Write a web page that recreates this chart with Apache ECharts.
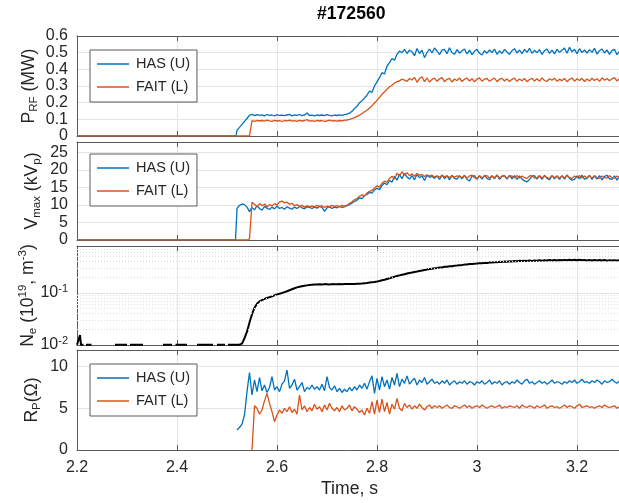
<!DOCTYPE html>
<html>
<head>
<meta charset="utf-8">
<script src="https://cdn.jsdelivr.net/npm/echarts@6/dist/echarts.min.js"></script>
<style>
  html, body { margin: 0; padding: 0; background: #fff; }
  #main { width: 619px; height: 503px; }
</style>
</head>
<body>
<div id="main"></div>
<script>
// samples on a 5 ms grid starting at 2.52 s
var T0 = 2.52, DT = 0.005;

var pHas = [
  0.035, 0.052, 0.07, 0.088, 0.105, 0.125, 0.13, 0.122, 0.128, 0.124,
  0.127, 0.121, 0.129, 0.124, 0.126, 0.12, 0.128, 0.123, 0.125, 0.122,
  0.126, 0.13, 0.121, 0.127, 0.124, 0.129, 0.122, 0.126, 0.138, 0.123,
  0.125, 0.121, 0.127, 0.123, 0.126, 0.122, 0.128, 0.124, 0.121, 0.126,
  0.123, 0.127, 0.124, 0.128, 0.131, 0.137, 0.148, 0.165, 0.178, 0.2,
  0.212, 0.228, 0.245, 0.27, 0.262, 0.3, 0.325, 0.35, 0.38, 0.372,
  0.42, 0.44, 0.465, 0.455, 0.49, 0.51, 0.5, 0.52, 0.495, 0.515,
  0.505, 0.482, 0.525, 0.495, 0.515, 0.47, 0.5, 0.522, 0.498, 0.528,
  0.51, 0.488, 0.515, 0.52, 0.494, 0.53, 0.5, 0.49, 0.518, 0.497,
  0.512, 0.522, 0.492, 0.515, 0.488, 0.508, 0.52, 0.496, 0.486, 0.512,
  0.497, 0.516, 0.5, 0.522, 0.49, 0.511, 0.495, 0.52, 0.504, 0.49,
  0.512, 0.524, 0.498, 0.516, 0.494, 0.52, 0.502, 0.526, 0.496, 0.514,
  0.5, 0.518, 0.49, 0.512, 0.522, 0.496, 0.515, 0.492, 0.52, 0.502,
  0.514, 0.528, 0.496, 0.532, 0.505, 0.52, 0.494, 0.524, 0.5, 0.516,
  0.498, 0.518, 0.502, 0.526, 0.492, 0.512, 0.522, 0.498, 0.517, 0.49,
  0.512, 0.52, 0.488, 0.508
];
var pFait = [
  0, 0, 0, 0, 0, 0, 0.092, 0.088, 0.094, 0.09,
  0.093, 0.089, 0.095, 0.091, 0.088, 0.094, 0.09, 0.092, 0.087, 0.093,
  0.091, 0.095, 0.089, 0.092, 0.088, 0.094, 0.09, 0.093, 0.098, 0.089,
  0.092, 0.088, 0.094, 0.09, 0.093, 0.087, 0.091, 0.095, 0.09, 0.092,
  0.089, 0.093, 0.091, 0.095, 0.096, 0.1, 0.104, 0.11, 0.118, 0.125,
  0.135, 0.145, 0.155, 0.168, 0.182, 0.198, 0.214, 0.232, 0.25, 0.265,
  0.28, 0.295, 0.305, 0.318, 0.326, 0.33, 0.342, 0.335, 0.328, 0.345,
  0.336, 0.352, 0.322, 0.344, 0.356, 0.326, 0.348, 0.324, 0.34, 0.347,
  0.328, 0.343, 0.35, 0.326, 0.34, 0.346, 0.324, 0.342, 0.332, 0.348,
  0.327, 0.341, 0.347, 0.33, 0.344, 0.325, 0.34, 0.349, 0.329, 0.341,
  0.345, 0.328, 0.339, 0.348, 0.326, 0.341, 0.346, 0.33, 0.343, 0.327,
  0.34, 0.347, 0.328, 0.342, 0.332, 0.345, 0.326, 0.339, 0.346, 0.33,
  0.343, 0.329, 0.349, 0.333, 0.327, 0.344, 0.334, 0.347, 0.328, 0.341,
  0.332, 0.345, 0.326, 0.34, 0.348, 0.329, 0.343, 0.333, 0.346, 0.327,
  0.342, 0.33, 0.347, 0.333, 0.344, 0.328, 0.349, 0.334, 0.345, 0.331,
  0.343, 0.35, 0.33, 0.344
];

var vHas = [
  9.0, 9.9, 10.3, 10.1, 9.4, 8.1, 9.3, 8.6, 9.8, 9.0,
  8.5, 9.6, 9.1, 8.7, 9.4, 8.9, 9.7, 9.0, 9.3, 8.8,
  9.5, 9.1, 8.8, 9.4, 9.0, 9.6, 9.2, 8.9, 9.5, 9.3,
  9.0, 9.4, 9.1, 9.6, 9.3, 8.2, 9.2, 9.5, 9.0, 9.4,
  9.2, 9.6, 9.3, 9.5, 9.8, 10.1, 10.6, 11.0, 11.4, 12.0,
  11.8, 12.7, 13.0, 13.6, 13.4, 14.3, 14.8, 14.4, 15.6, 16.3,
  15.8, 17.0, 16.5, 18.2, 17.1, 18.8, 17.5, 19.0, 18.0, 17.4,
  18.4, 17.2, 18.7, 17.8, 18.3, 17.0, 18.5, 17.9, 18.2, 17.6,
  18.3, 17.3, 18.6, 17.5, 18.4, 17.2, 18.5, 17.6, 17.4, 18.4,
  17.5, 18.5, 17.3, 16.9, 18.2, 18.4, 17.3, 18.3, 17.4, 18.5,
  17.6, 17.2, 18.4, 17.5, 18.6, 17.3, 18.2, 18.3, 17.4, 18.5,
  17.5, 18.4, 17.3, 18.3, 17.4, 16.9, 16.6, 17.3, 18.2, 18.4,
  17.4, 18.3, 17.3, 18.5, 17.6, 17.2, 18.4, 17.5, 18.3, 17.3,
  18.4, 17.4, 18.6, 17.6, 17.1, 17.3, 18.3, 17.5, 18.5, 17.4,
  17.6, 18.5, 17.3, 18.3, 17.4, 18.4, 17.2, 18.2, 18.5, 17.5,
  17.3, 18.3, 17.1, 18.2
];
var vFait = [
  0, 0, 0, 0, 0, 0.3, 10.8, 10.2, 9.6, 10.4,
  9.8, 10.3, 9.5, 10.1, 9.7, 10.4, 10.0, 10.9, 11.1, 10.6,
  10.8, 10.2, 10.5, 9.8, 10.1, 9.6, 9.9, 9.4, 9.8, 9.5,
  9.7, 9.5, 9.9, 9.6, 9.8, 9.3, 9.7, 9.5, 9.9, 9.6,
  9.8, 9.5, 9.9, 9.7, 10.0, 10.4, 10.9, 11.5, 11.8, 12.5,
  12.9, 12.6, 13.4, 13.9, 14.2, 14.8, 15.5, 15.1, 16.2, 16.8,
  16.5, 17.6, 18.2, 17.4, 19.1, 18.3, 19.5, 18.6, 19.2, 18.4,
  18.9, 18.2, 19.0, 18.5, 18.7, 18.1, 18.6, 18.3, 18.5, 18.0,
  18.3, 18.0, 18.4, 18.1, 18.3, 17.9, 18.2, 18.0, 18.3, 18.1,
  17.8, 18.4, 17.7, 18.3, 18.5, 17.8, 17.6, 18.4, 17.8, 18.3,
  18.4, 17.7, 18.3, 17.8, 18.5, 17.7, 18.3, 18.4, 17.6, 18.2,
  18.3, 17.8, 18.4, 17.7, 18.3, 17.8, 17.6, 18.3, 18.4, 17.7,
  17.8, 18.4, 17.7, 18.3, 17.8, 17.6, 18.4, 17.8, 18.3, 17.7,
  18.3, 17.7, 18.4, 17.8, 17.6, 18.3, 17.8, 18.4, 17.7, 18.3,
  17.8, 18.3, 17.7, 18.4, 17.8, 17.6, 18.3, 17.8, 17.7, 18.4,
  17.8, 17.7, 18.3, 17.8
];

// density before breakdown: [time, value], '-' = below axis floor
var neBefore = [
  [2.2, 0.0101], [2.204, 0.0101], [2.206, 0.0155], [2.208, 0.0101], [2.213, 0.0101], [2.215, '-'],
  [2.218, 0.0101], [2.229, 0.0101], [2.231, '-'],
  [2.276, 0.0101], [2.3, 0.0101], [2.302, '-'], [2.306, 0.0101], [2.332, 0.0101], [2.334, '-'],
  [2.372, 0.0101], [2.39, 0.0101], [2.392, '-'], [2.397, 0.0101], [2.42, 0.0101], [2.422, '-'],
  [2.44, 0.0101], [2.472, 0.0101], [2.474, '-'], [2.48, 0.0101], [2.496, 0.0101], [2.498, '-'],
  [2.502, 0.0101]
];
var ne = [
  0.0101, 0.0101, 0.0106, 0.0135, 0.018, 0.027, 0.039, 0.052, 0.062, 0.069,
  0.073, 0.077, 0.08, 0.083, 0.086, 0.09, 0.094, 0.097, 0.1, 0.104,
  0.108, 0.113, 0.118, 0.123, 0.128, 0.132, 0.135, 0.138, 0.14, 0.142,
  0.144, 0.145, 0.146, 0.147, 0.146, 0.148, 0.147, 0.146, 0.148, 0.147,
  0.147, 0.148, 0.147, 0.148, 0.148, 0.149, 0.148, 0.149, 0.15, 0.151,
  0.152, 0.154, 0.156, 0.159, 0.161, 0.163, 0.166, 0.17, 0.175, 0.18,
  0.186, 0.192, 0.199, 0.205, 0.212, 0.218, 0.224, 0.23, 0.236, 0.242,
  0.247, 0.253, 0.258, 0.264, 0.27, 0.277, 0.282, 0.288, 0.293, 0.298,
  0.303, 0.309, 0.31, 0.318, 0.32, 0.326, 0.327, 0.335, 0.336, 0.343,
  0.344, 0.351, 0.352, 0.359, 0.36, 0.366, 0.367, 0.373, 0.372, 0.379,
  0.378, 0.385, 0.384, 0.391, 0.39, 0.398, 0.396, 0.403, 0.4, 0.407,
  0.404, 0.411, 0.407, 0.415, 0.41, 0.418, 0.412, 0.42, 0.414, 0.423,
  0.417, 0.425, 0.418, 0.427, 0.42, 0.429, 0.421, 0.43, 0.422, 0.431,
  0.424, 0.433, 0.425, 0.434, 0.426, 0.435, 0.424, 0.434, 0.425, 0.433,
  0.423, 0.432, 0.422, 0.431, 0.421, 0.43, 0.42, 0.429, 0.419, 0.428,
  0.42, 0.428, 0.419, 0.426
];
var neMinor = [0.02, 0.03, 0.04, 0.05, 0.06, 0.07, 0.08, 0.09, 0.2, 0.3, 0.4, 0.5, 0.6, 0.7];

var rHas = [
  2.4, 2.7, 3.1, 4.2, 7.0, 9.3, 6.6, 8.4, 7.0, 8.7,
  7.1, 7.8, 6.9, 7.5, 8.8, 7.2, 7.6, 7.0, 7.9, 8.3,
  9.6, 7.4, 7.8, 8.5, 7.2, 7.6, 8.1, 7.0, 7.5, 7.3,
  7.8, 7.3, 7.6, 7.2, 7.9, 7.1, 8.8, 7.5, 7.2, 7.7,
  7.0, 7.4, 6.9, 7.3, 7.0, 7.5, 7.1, 7.6, 7.2, 7.8,
  7.4, 8.0, 7.3, 8.2, 8.9, 6.8, 8.6, 7.2, 8.8, 7.6,
  8.4, 7.3, 8.7, 7.8, 9.2, 7.6, 8.5, 8.0, 8.9, 7.9,
  8.3, 8.6, 7.8, 8.4, 8.1, 8.7, 7.9, 8.2, 8.5, 8.0,
  8.2, 7.9, 8.3, 8.0, 8.4, 7.8, 8.1, 8.3, 7.9, 8.2,
  8.0, 8.3, 7.9, 8.2, 8.1, 7.8, 8.2, 8.0, 8.3, 7.9,
  8.1, 8.4, 7.9, 8.2, 8.0, 8.3, 7.8, 8.1, 8.2, 7.9,
  8.2, 8.0, 8.4, 8.1, 7.9, 8.3, 8.5, 8.0, 8.2, 7.9,
  8.1, 8.3, 8.0, 8.2, 7.9, 8.1, 8.4, 8.0, 8.2, 8.1,
  7.9, 8.2, 8.0, 8.3, 8.1, 8.4, 8.0, 8.2, 8.5, 8.1,
  8.2, 8.0, 8.3, 8.1, 8.4, 8.2, 7.9, 8.3, 8.1, 8.2,
  8.5, 8.2, 8.0, 8.3
];
var rFait = [
  '-', '-', '-', '-', '-', '-', 0, 5.3, 5.0, 4.3,
  4.8, 5.9, 6.8, 5.6, 4.6, 3.4, 4.2, 4.8, 4.4, 5.0,
  4.6, 5.2, 4.5, 4.9, 4.3, 6.6, 4.8, 5.3, 4.6, 5.1,
  4.7, 5.5, 4.9, 5.2, 4.6, 5.4, 4.8, 5.6, 5.0, 4.7,
  5.1, 4.6, 5.3, 4.8, 5.0, 5.4, 4.7, 5.2, 4.9, 4.5,
  4.8, 4.2, 5.0, 4.4, 5.8, 4.3, 6.0, 4.5, 6.1, 4.6,
  5.7, 4.3, 5.5, 4.9, 6.2, 5.0, 4.7, 5.6, 5.1, 5.4,
  4.9, 5.3, 5.0, 5.5, 5.1, 4.8, 5.2, 5.4, 5.0, 5.3,
  5.1, 5.3, 5.0, 5.2, 5.4, 5.1, 5.0, 5.3, 5.2, 5.0,
  5.2, 5.4, 5.1, 5.3, 5.0, 5.2, 5.3, 5.1, 5.4, 5.2,
  5.0, 5.2, 5.3, 5.1, 5.2, 5.4, 5.0, 5.2, 5.1, 5.3,
  5.2, 5.1, 5.3, 5.0, 5.4, 5.2, 5.1, 5.3, 5.2, 5.0,
  5.3, 5.1, 5.2, 5.4, 5.0, 5.2, 5.3, 5.1, 5.2, 5.0,
  5.2, 5.4, 5.1, 5.3, 5.2, 5.0, 5.3, 5.5, 5.1, 5.2,
  5.3, 5.1, 5.2, 5.0, 5.2, 5.3, 5.1, 5.4, 5.2, 5.1,
  5.2, 5.3, 5.0, 5.2
];

var xTicks = [2.2, 2.4, 2.6, 2.8, 3, 3.2];

function onGrid(vals) {
  return vals.map(function (v, i) {
    return [Math.round((T0 + i * DT) * 1000) / 1000, v];
  });
}

var FONT = 'Liberation Sans';
var TXT = '#262626';
var AX = '#5a5a5a';
var BLUE = '#0072BD', ORANGE = '#D95319';

var panels = [
  { top: 36, height: 100 },
  { top: 142, height: 98 },
  { top: 246, height: 99 },
  { top: 350, height: 100 }
];

var nameRich = {
  a: { fontSize: 17.6, lineHeight: 22, fontFamily: FONT, color: TXT },
  sub: { fontSize: 11.5, lineHeight: 11, verticalAlign: 'bottom', fontFamily: FONT, color: TXT },
  sup: { fontSize: 11.5, lineHeight: 11, verticalAlign: 'top', fontFamily: FONT, color: TXT }
};

function xLabel(v) {
  for (var k = 0; k < xTicks.length; k++) {
    if (Math.abs(v - xTicks[k]) < 1e-6) return String(xTicks[k]);
  }
  return '';
}

var grids = [], xAxes = [], yAxes = [];
panels.forEach(function (p, i) {
  grids.push({ left: 77, right: -3, top: p.top, height: p.height, containLabel: false, outerBoundsMode: 'none' });
  var last = i === panels.length - 1;
  xAxes.push({
    type: 'value', gridIndex: i, min: 2.2, max: 3.29, interval: 0.2,
    axisLine: { show: true, onZero: false, lineStyle: { color: AX, width: 1 } },
    axisTick: { show: true, inside: true, length: 5, lineStyle: { color: AX } },
    axisLabel: { show: last, formatter: xLabel, fontSize: 16, color: TXT, fontFamily: FONT, margin: 10 },
    splitLine: { show: true, lineStyle: { color: '#e4e4e4', width: 1 } },
    name: last ? 'Time, s' : '',
    nameLocation: 'middle', nameGap: 30, nameMoveOverlap: false,
    nameTextStyle: { fontSize: 17.6, color: TXT, fontFamily: FONT }
  });
});
// top edges of the boxes with inward ticks
panels.forEach(function (p, i) {
  xAxes.push({
    type: 'value', gridIndex: i, position: 'top', min: 2.2, max: 3.29, interval: 0.2,
    axisLine: { show: true, onZero: false, lineStyle: { color: AX, width: 1 } },
    axisTick: { show: true, inside: true, length: 5, lineStyle: { color: AX } },
    axisLabel: { show: false },
    splitLine: { show: false }
  });
});

var yBase = {
  axisLine: { show: true, onZero: false, lineStyle: { color: AX, width: 1 } },
  axisTick: { show: false },
  splitLine: { show: true, lineStyle: { color: '#e4e4e4', width: 1 } },
  nameLocation: 'middle', nameRotate: 90, nameMoveOverlap: false,
  nameTextStyle: { fontFamily: FONT, color: TXT, rich: nameRich }
};
function yAxis(extra) {
  var o = {};
  for (var k in yBase) o[k] = yBase[k];
  for (var k2 in extra) o[k2] = extra[k2];
  return o;
}
var lbl = { fontSize: 16, color: TXT, fontFamily: FONT, margin: 9 };

yAxes.push(yAxis({
  type: 'value', gridIndex: 0, min: 0, max: 0.6, interval: 0.1,
  axisLabel: lbl,
  name: '{a|P}{sub|RF}{a| (MW)}', nameGap: 37
}));
yAxes.push(yAxis({
  type: 'value', gridIndex: 1, min: 0, max: 28, interval: 5,
  axisLabel: Object.assign({}, lbl, { formatter: function (v) { return v % 5 === 0 ? String(v) : ''; } }),
  name: '{a|V}{sub|max}{a| (kV}{sub|p}{a|)}', nameGap: 34
}));
yAxes.push(yAxis({
  type: 'log', logBase: 10, gridIndex: 2, min: 0.01, max: 0.8,
  axisLabel: Object.assign({}, lbl, {
    formatter: function (v) {
      var e = Math.log(v) / Math.LN10, r = Math.round(e);
      return Math.abs(e - r) < 1e-6 ? '{b|10}{sup|' + r + '}' : '';
    },
    rich: {
      b: { fontSize: 16, lineHeight: 20, fontFamily: FONT, color: TXT },
      sup: { fontSize: 11, lineHeight: 10, verticalAlign: 'top', fontFamily: FONT, color: TXT }
    }
  }),
  name: '{a|N}{sub|e}{a| (10}{sup|19}{a|, m}{sup|-3}{a|)}', nameGap: 38
}));
yAxes.push(yAxis({
  type: 'value', gridIndex: 3, min: 0, max: 12, interval: 5,
  axisLabel: Object.assign({}, lbl, { formatter: function (v) { return v % 5 === 0 ? String(v) : ''; } }),
  name: '{a|R}{sub|P}{a|(Ω)}', nameGap: 34
}));

function line(name, xi, data, color, width) {
  return {
    name: name, type: 'line', xAxisIndex: xi, yAxisIndex: xi, data: data,
    showSymbol: false, symbol: 'none', connectNulls: false, clip: true,
    lineStyle: { color: color, width: width || 1.3 },
    itemStyle: { color: color },
    emphasis: { disabled: true }
  };
}

var neSeries = line('Ne', 2, neBefore.concat(onGrid(ne)), '#000', 2);
neSeries.markLine = {
  silent: true, symbol: 'none', animation: false,
  label: { show: false },
  lineStyle: { color: '#dedede', type: [1, 2], width: 1 },
  emphasis: { disabled: true },
  data: neMinor.map(function (v) { return { yAxis: v }; })
};

var series = [
  line('HAS (U)', 0, [[2.2, 0], [2.518, 0]].concat(onGrid(pHas)), BLUE),
  line('FAIT (L)', 0, [[2.2, 0]].concat(onGrid(pFait)), ORANGE),
  line('HAS (U)', 1, [[2.2, 0], [2.517, 0]].concat(onGrid(vHas)), BLUE),
  line('FAIT (L)', 1, [[2.2, 0]].concat(onGrid(vFait)), ORANGE),
  neSeries,
  line('HAS (U)', 3, onGrid(rHas), BLUE),
  line('FAIT (L)', 3, onGrid(rFait), ORANGE)
];

function legendAt(top) {
  return {
    left: 90, top: top, orient: 'vertical',
    data: ['HAS (U)', 'FAIT (L)'],
    selectedMode: false,
    icon: 'rect', itemWidth: 32, itemHeight: 1.5, itemGap: 7,
    padding: [6, 7, 7, 7],
    backgroundColor: '#fff', borderColor: AX, borderWidth: 1, borderRadius: 0,
    textStyle: { fontSize: 14.5, lineHeight: 16, color: TXT, fontFamily: FONT, padding: [0, 0, 0, 2] }
  };
}

var chart = echarts.init(document.getElementById('main'), null, { renderer: 'canvas' });
chart.setOption({
  animation: false,
  backgroundColor: '#fff',
  title: {
    text: '#172560', left: 317, top: 5, padding: 0,
    textStyle: { fontSize: 17.6, fontWeight: 'bold', color: '#000', fontFamily: FONT }
  },
  legend: [legendAt(50), legendAt(154), legendAt(364)],
  grid: grids,
  xAxis: xAxes,
  yAxis: yAxes,
  series: series
});
</script>
</body>
</html>
